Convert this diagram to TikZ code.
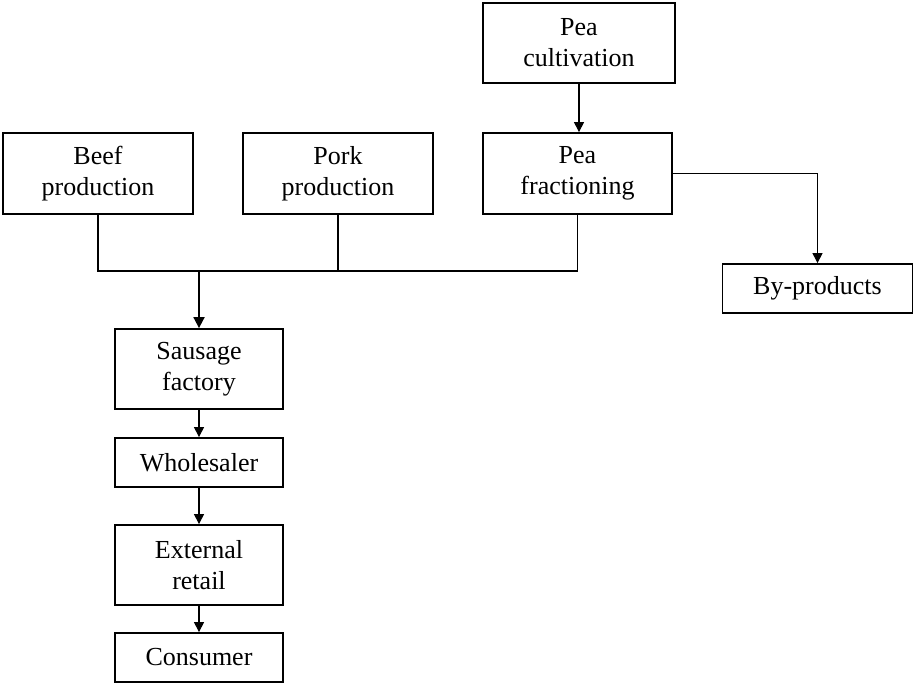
\documentclass[tikz,border=0pt]{standalone}
\usepackage{fontspec}
\setmainfont{Liberation Serif}
\usetikzlibrary{arrows.meta}
\begin{document}
\begin{tikzpicture}[x=1pt,y=-1pt,
  box/.style={draw,line width=1.8pt,rectangle,inner sep=0pt,align=center,
    font=\fontsize{26}{31}\selectfont},
  link/.style={line width=1.1pt},
  flow/.style={line width=1.1pt,-{Triangle[length=10pt,width=10pt]}},
  mainflow/.style={line width=1.8pt,-{Triangle[length=11pt,width=11pt]}}]
\useasboundingbox (0,0) rectangle (915,684);

% supply chain boxes
\node[box,minimum width=192pt,minimum height=80pt] (cult) at (579,43) {Pea\\cultivation};
\node[box,minimum width=190pt,minimum height=81pt] (beef) at (98,173.5) {Beef\\production};
\node[box,minimum width=190pt,minimum height=81pt] (pork) at (338,173.5) {Pork\\production};
\node[box,minimum width=189pt,minimum height=81pt] (frac) at (577.5,173.5) {Pea\\fractioning};
\node[box,minimum width=190pt,minimum height=49pt] (byp) at (817.5,288.5) {By-products};
\node[box,minimum width=168pt,minimum height=80pt] (saus) at (199,369) {Sausage\\factory};
\node[box,minimum width=168pt,minimum height=49pt] (whole) at (199,462.5) {Wholesaler};
\node[box,minimum width=168pt,minimum height=80pt] (retail) at (199,565) {External\\retail};
\node[box,minimum width=168pt,minimum height=49pt] (cons) at (199,657.5) {Consumer};

% merging raw materials into the factory
\coordinate (j) at (199,271);
\draw[link] (beef.south) -- (beef.south |- j) -- (frac.south |- j) -- (frac.south);
\draw[link] (pork.south) -- (pork.south |- j);
\draw[mainflow] (j) -- (saus.north);

% pea branch
\draw[flow] (cult.south) -- (cult.south |- frac.north);
\draw[flow] (frac.east) -| (byp.north);

% downstream chain
\draw[flow] (saus.south) -- (whole.north);
\draw[flow] (whole.south) -- (retail.north);
\draw[flow] (retail.south) -- (cons.north);
\end{tikzpicture}
\end{document}
